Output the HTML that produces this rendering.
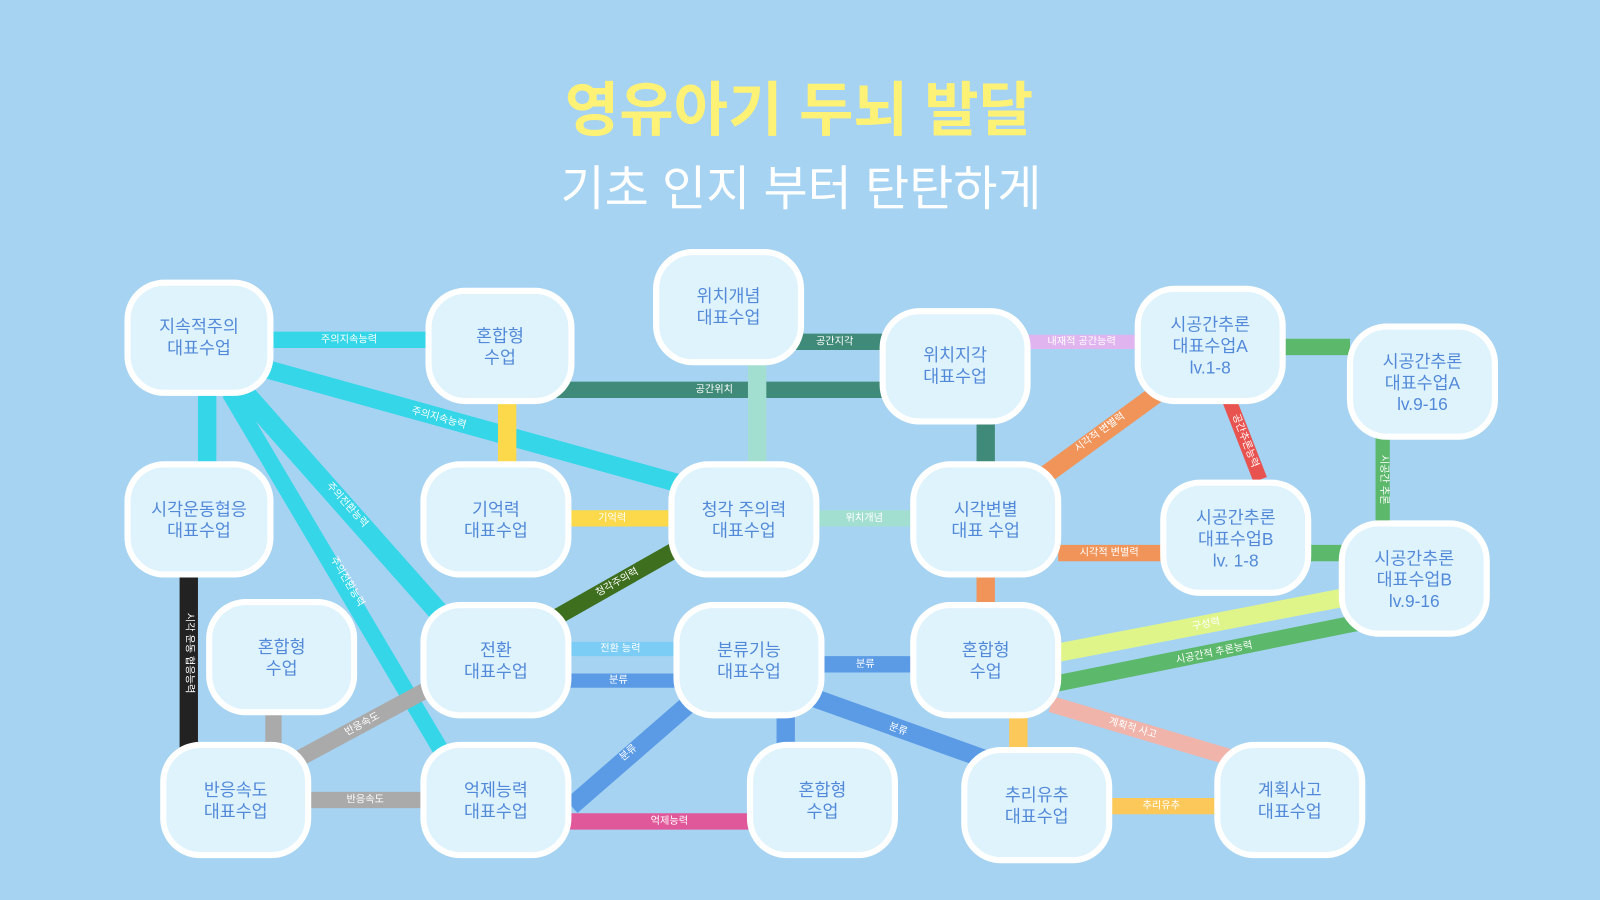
<!DOCTYPE html>
<html><head><meta charset="utf-8"><style>
html,body{margin:0;padding:0;background:#a6d3f2;}
svg{display:block}
.n{fill:#dff3fd;stroke:#fff;stroke-width:6}
.t{font-family:"Liberation Sans","Noto Sans CJK KR","NanumGothic",sans-serif;fill:#5289d8;font-size:17px;text-anchor:middle}
.l{font-family:"Liberation Sans","Noto Sans CJK KR","NanumGothic",sans-serif;fill:#fff;font-size:10px;text-anchor:middle;dominant-baseline:central}
</style></head><body>
<svg width="1600" height="900" viewBox="0 0 1568 882" preserveAspectRatio="none" xmlns="http://www.w3.org/2000/svg">
<rect width="1568" height="882" fill="#a6d3f2"/>
<text x="783" y="128" text-anchor="middle" font-family="'Liberation Sans','Noto Sans CJK KR',sans-serif" font-weight="bold" font-size="58" fill="#fdf176">영유아기 두뇌 발달</text>
<text x="785" y="201" text-anchor="middle" font-family="'Liberation Sans','Noto Sans CJK KR',sans-serif" font-size="47" fill="#ffffff">기초 인지 부터 탄탄하게</text>
<g stroke-linecap="butt" fill="none">
<line x1="265" y1="333" x2="420" y2="333" stroke="#35d6e8" stroke-width="16"/>
<line x1="255" y1="360" x2="670" y2="475" stroke="#35d6e8" stroke-width="18"/>
<line x1="203" y1="385" x2="203" y2="455" stroke="#35d6e8" stroke-width="18"/>
<line x1="235" y1="380" x2="430" y2="600" stroke="#35d6e8" stroke-width="20"/>
<line x1="225" y1="385" x2="435" y2="740" stroke="#35d6e8" stroke-width="16"/>
<line x1="497" y1="393" x2="497" y2="455" stroke="#fcd94a" stroke-width="18"/>
<line x1="557" y1="508" x2="658" y2="508" stroke="#fcd94a" stroke-width="16"/>
<line x1="540" y1="382" x2="870" y2="382" stroke="#3f8a78" stroke-width="16"/>
<line x1="780" y1="335" x2="870" y2="335" stroke="#3f8a78" stroke-width="16"/>
<line x1="742" y1="355" x2="742" y2="455" stroke="#a3dfd0" stroke-width="18"/>
<line x1="800" y1="508" x2="895" y2="508" stroke="#a3dfd0" stroke-width="16"/>
<line x1="966" y1="413" x2="966" y2="455" stroke="#3f8a78" stroke-width="18"/>
<line x1="1007" y1="335" x2="1115" y2="335" stroke="#e0b4ee" stroke-width="14"/>
<line x1="1257" y1="340" x2="1323" y2="340" stroke="#5cb86a" stroke-width="16"/>
<line x1="1355" y1="428" x2="1355" y2="513" stroke="#5cb86a" stroke-width="14"/>
<line x1="1025" y1="465" x2="1135" y2="385" stroke="#f0945a" stroke-width="18"/>
<line x1="1205" y1="393" x2="1235" y2="470" stroke="#e8524f" stroke-width="14"/>
<line x1="1037" y1="542" x2="1140" y2="542" stroke="#f0945a" stroke-width="16"/>
<line x1="1282" y1="542" x2="1315" y2="542" stroke="#5cb86a" stroke-width="16"/>
<line x1="966" y1="563" x2="966" y2="593" stroke="#f0945a" stroke-width="18"/>
<line x1="545" y1="605" x2="665" y2="537" stroke="#3e6f1f" stroke-width="16"/>
<line x1="557" y1="636" x2="663" y2="636" stroke="#7ccdf5" stroke-width="14"/>
<line x1="557" y1="667" x2="663" y2="667" stroke="#5b9be6" stroke-width="14"/>
<line x1="805" y1="651" x2="895" y2="651" stroke="#5b9be6" stroke-width="16"/>
<line x1="1035" y1="640" x2="1320" y2="585" stroke="#dff58a" stroke-width="18"/>
<line x1="1035" y1="670" x2="1332" y2="610" stroke="#5cb86a" stroke-width="16"/>
<line x1="1030" y1="690" x2="1215" y2="745" stroke="#f0b4aa" stroke-width="16"/>
<line x1="998" y1="701" x2="998" y2="735" stroke="#fcc85a" stroke-width="18"/>
<line x1="1087" y1="790" x2="1193" y2="790" stroke="#fcc85a" stroke-width="16"/>
<line x1="795" y1="683" x2="968" y2="745" stroke="#5b9be6" stroke-width="18"/>
<line x1="770" y1="701" x2="770" y2="730" stroke="#5b9be6" stroke-width="18"/>
<line x1="675" y1="690" x2="560" y2="790" stroke="#5b9be6" stroke-width="18"/>
<line x1="557" y1="805" x2="735" y2="805" stroke="#e0589a" stroke-width="16"/>
<line x1="302" y1="784" x2="415" y2="784" stroke="#aaaaaa" stroke-width="16"/>
<line x1="290" y1="745" x2="420" y2="675" stroke="#aaaaaa" stroke-width="16"/>
<line x1="268" y1="698" x2="268" y2="730" stroke="#aaaaaa" stroke-width="16"/>
<line x1="185" y1="563" x2="185" y2="735" stroke="#222222" stroke-width="18"/>
</g>
<g>
<text class="l" x="342" y="333">주의지속능력</text>
<text class="l" transform="translate(430,410) rotate(15.5)">주의지속능력</text>
<text class="l" transform="translate(340,495) rotate(48)">주의전환능력</text>
<text class="l" transform="translate(340,570) rotate(59)">주의전환능력</text>
<text class="l" x="600" y="508">기억력</text>
<text class="l" x="700" y="382">공간위치</text>
<text class="l" x="818" y="335">공간지각</text>
<text class="l" x="847" y="508">위치개념</text>
<text class="l" x="1060" y="335">내재적 공간능력</text>
<text class="l" transform="translate(1356,470) rotate(90)">시공간 추론</text>
<text class="l" transform="translate(1078,424) rotate(-36)">시각적 변별력</text>
<text class="l" transform="translate(1220,432) rotate(69)">공간추론능력</text>
<text class="l" x="1087" y="542">시각적 변별력</text>
<text class="l" transform="translate(605,571) rotate(-29.5)">청각주의력</text>
<text class="l" x="608" y="636">전환 능력</text>
<text class="l" x="606" y="667">분류</text>
<text class="l" x="848" y="651">분류</text>
<text class="l" transform="translate(1182,612) rotate(-11)">구성력</text>
<text class="l" transform="translate(1190,640) rotate(-11.5)">시공간적 추론능력</text>
<text class="l" transform="translate(1110,714) rotate(16.5)">계획적 사고</text>
<text class="l" transform="translate(880,715) rotate(20)">분류</text>
<text class="l" transform="translate(616,738) rotate(-41)">분류</text>
<text class="l" x="656" y="805">억제능력</text>
<text class="l" x="358" y="784">반응속도</text>
<text class="l" transform="translate(355,710) rotate(-28)">반응속도</text>
<text class="l" x="1138" y="790">추리유추</text>
<text class="l" transform="translate(185,640) rotate(90)">시각 운동 협응능력</text>
</g>
<g>
<rect class="n" x="125" y="277" width="140" height="108" rx="36"/>
<rect class="n" x="420" y="285" width="140" height="108" rx="36"/>
<rect class="n" x="643" y="247" width="142" height="108" rx="36"/>
<rect class="n" x="865" y="305" width="142" height="108" rx="36"/>
<rect class="n" x="1115" y="283" width="142" height="110" rx="36"/>
<rect class="n" x="1323" y="320" width="142" height="108" rx="36"/>
<rect class="n" x="125" y="455" width="140" height="108" rx="36"/>
<rect class="n" x="415" y="455" width="142" height="108" rx="36"/>
<rect class="n" x="658" y="455" width="142" height="108" rx="36"/>
<rect class="n" x="895" y="455" width="142" height="108" rx="36"/>
<rect class="n" x="1140" y="473" width="142" height="108" rx="36"/>
<rect class="n" x="1315" y="513" width="142" height="108" rx="36"/>
<rect class="n" x="205" y="590" width="142" height="108" rx="36"/>
<rect class="n" x="415" y="593" width="142" height="108" rx="36"/>
<rect class="n" x="663" y="593" width="142" height="108" rx="36"/>
<rect class="n" x="895" y="593" width="142" height="108" rx="36"/>
<rect class="n" x="160" y="730" width="142" height="108" rx="36"/>
<rect class="n" x="415" y="730" width="142" height="108" rx="36"/>
<rect class="n" x="735" y="730" width="142" height="108" rx="36"/>
<rect class="n" x="945" y="735" width="142" height="108" rx="36"/>
<rect class="n" x="1193" y="730" width="142" height="108" rx="36"/>
</g>
<g>
<text class="t" x="195" y="326">지속적주의</text><text class="t" x="195" y="347">대표수업</text>
<text class="t" x="490" y="335">혼합형</text><text class="t" x="490" y="356">수업</text>
<text class="t" x="714" y="296">위치개념</text><text class="t" x="714" y="317">대표수업</text>
<text class="t" x="936" y="354">위치지각</text><text class="t" x="936" y="375">대표수업</text>
<text class="t" x="1186" y="324">시공간추론</text><text class="t" x="1186" y="345">대표수업A</text><text class="t" x="1186" y="366">lv.1-8</text>
<text class="t" x="1394" y="360">시공간추론</text><text class="t" x="1394" y="381">대표수업A</text><text class="t" x="1394" y="402">lv.9-16</text>
<text class="t" x="195" y="505">시각운동협응</text><text class="t" x="195" y="526">대표수업</text>
<text class="t" x="486" y="505">기억력</text><text class="t" x="486" y="526">대표수업</text>
<text class="t" x="729" y="505">청각 주의력</text><text class="t" x="729" y="526">대표수업</text>
<text class="t" x="966" y="505">시각변별</text><text class="t" x="966" y="526">대표 수업</text>
<text class="t" x="1211" y="513">시공간추론</text><text class="t" x="1211" y="534">대표수업B</text><text class="t" x="1211" y="555">lv. 1-8</text>
<text class="t" x="1386" y="553">시공간추론</text><text class="t" x="1386" y="574">대표수업B</text><text class="t" x="1386" y="595">lv.9-16</text>
<text class="t" x="276" y="640">혼합형</text><text class="t" x="276" y="661">수업</text>
<text class="t" x="486" y="643">전환</text><text class="t" x="486" y="664">대표수업</text>
<text class="t" x="734" y="643">분류기능</text><text class="t" x="734" y="664">대표수업</text>
<text class="t" x="966" y="643">혼합형</text><text class="t" x="966" y="664">수업</text>
<text class="t" x="231" y="780">반응속도</text><text class="t" x="231" y="801">대표수업</text>
<text class="t" x="486" y="780">억제능력</text><text class="t" x="486" y="801">대표수업</text>
<text class="t" x="806" y="780">혼합형</text><text class="t" x="806" y="801">수업</text>
<text class="t" x="1016" y="785">추리유추</text><text class="t" x="1016" y="806">대표수업</text>
<text class="t" x="1264" y="780">계획사고</text><text class="t" x="1264" y="801">대표수업</text>
</g>
</svg>
</body></html>
